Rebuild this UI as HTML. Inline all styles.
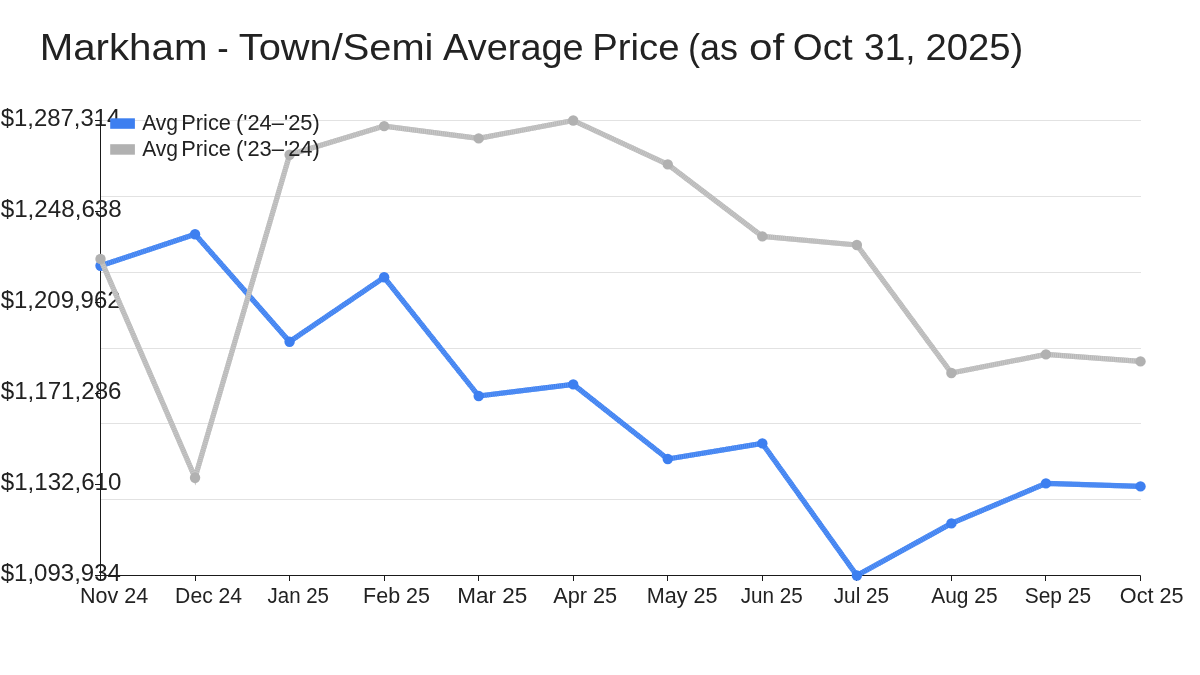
<!DOCTYPE html><html><head><meta charset="utf-8"><style>html,body{margin:0;padding:0;background:#fff;width:1200px;height:675px;overflow:hidden}svg{display:block;will-change:transform}text{font-family:"Liberation Sans",sans-serif;fill:#222222}</style></head><body>
<svg width="1200" height="675" viewBox="0 0 1200 675">
<g id="grid">
<line x1="100.5" y1="120.50" x2="1141" y2="120.50" stroke="#e2e2e2" stroke-width="1"/>
<line x1="100.5" y1="196.50" x2="1141" y2="196.50" stroke="#e2e2e2" stroke-width="1"/>
<line x1="100.5" y1="272.50" x2="1141" y2="272.50" stroke="#e2e2e2" stroke-width="1"/>
<line x1="100.5" y1="348.50" x2="1141" y2="348.50" stroke="#e2e2e2" stroke-width="1"/>
<line x1="100.5" y1="423.50" x2="1141" y2="423.50" stroke="#e2e2e2" stroke-width="1"/>
<line x1="100.5" y1="499.50" x2="1141" y2="499.50" stroke="#e2e2e2" stroke-width="1"/>
</g>
<text id="t0" x="39.70" y="60.00" font-size="37.50" textLength="167.73" lengthAdjust="spacingAndGlyphs">Markham</text>
<text id="t1" x="217.19" y="60.00" font-size="37.50" textLength="11.39" lengthAdjust="spacingAndGlyphs">-</text>
<text id="t2" x="238.75" y="60.00" font-size="37.50" textLength="194.69" lengthAdjust="spacingAndGlyphs">Town/Semi</text>
<text id="t3" x="443.14" y="60.00" font-size="37.50" textLength="140.54" lengthAdjust="spacingAndGlyphs">Average</text>
<text id="t4" x="592.19" y="60.00" font-size="37.50" textLength="87.26" lengthAdjust="spacingAndGlyphs">Price</text>
<text id="t5" x="688.12" y="60.00" font-size="37.50" textLength="49.86" lengthAdjust="spacingAndGlyphs">(as</text>
<text id="t6" x="749.04" y="60.00" font-size="37.50" textLength="35.15" lengthAdjust="spacingAndGlyphs">of</text>
<text id="t7" x="792.83" y="60.00" font-size="37.50" textLength="59.85" lengthAdjust="spacingAndGlyphs">Oct</text>
<text id="t8" x="864.10" y="60.00" font-size="37.50" textLength="51.55" lengthAdjust="spacingAndGlyphs">31,</text>
<text id="t9" x="925.47" y="60.00" font-size="37.50" textLength="97.91" lengthAdjust="spacingAndGlyphs">2025)</text>
<text id="y0" x="0.75" y="126.00" font-size="23.50" textLength="119.64" lengthAdjust="spacingAndGlyphs">$1,287,314</text>
<text id="y1" x="0.72" y="217.00" font-size="23.50" textLength="121.04" lengthAdjust="spacingAndGlyphs">$1,248,638</text>
<text id="y2" x="0.75" y="308.00" font-size="23.50" textLength="119.78" lengthAdjust="spacingAndGlyphs">$1,209,962</text>
<text id="y3" x="0.72" y="399.00" font-size="23.50" textLength="120.82" lengthAdjust="spacingAndGlyphs">$1,171,286</text>
<text id="y4" x="0.72" y="490.00" font-size="23.50" textLength="120.66" lengthAdjust="spacingAndGlyphs">$1,132,610</text>
<text id="y5" x="0.72" y="581.00" font-size="23.50" textLength="120.21" lengthAdjust="spacingAndGlyphs">$1,093,934</text>
<text id="x0" x="80.01" y="602.90" font-size="22.00" textLength="68.23" lengthAdjust="spacingAndGlyphs">Nov 24</text>
<text id="x1" x="175.12" y="602.90" font-size="22.00" textLength="67.00" lengthAdjust="spacingAndGlyphs">Dec 24</text>
<text id="x2" x="267.53" y="602.90" font-size="22.00" textLength="61.50" lengthAdjust="spacingAndGlyphs">Jan 25</text>
<text id="x3" x="363.12" y="602.90" font-size="22.00" textLength="66.85" lengthAdjust="spacingAndGlyphs">Feb 25</text>
<text id="x4" x="457.19" y="602.90" font-size="22.00" textLength="70.02" lengthAdjust="spacingAndGlyphs">Mar 25</text>
<text id="x5" x="553.20" y="602.90" font-size="22.00" textLength="63.92" lengthAdjust="spacingAndGlyphs">Apr 25</text>
<text id="x6" x="646.84" y="602.90" font-size="22.00" textLength="70.79" lengthAdjust="spacingAndGlyphs">May 25</text>
<text id="x7" x="740.71" y="602.90" font-size="22.00" textLength="62.04" lengthAdjust="spacingAndGlyphs">Jun 25</text>
<text id="x8" x="833.75" y="602.90" font-size="22.00" textLength="55.38" lengthAdjust="spacingAndGlyphs">Jul 25</text>
<text id="x9" x="931.23" y="602.90" font-size="22.00" textLength="66.39" lengthAdjust="spacingAndGlyphs">Aug 25</text>
<text id="x10" x="1024.74" y="602.90" font-size="22.00" textLength="66.29" lengthAdjust="spacingAndGlyphs">Sep 25</text>
<text id="x11" x="1119.82" y="602.90" font-size="22.00" textLength="63.72" lengthAdjust="spacingAndGlyphs">Oct 25</text>
<g id="axes" stroke="#1a1a1a" stroke-width="1">
<line x1="100.5" y1="120.5" x2="100.5" y2="575.5"/>
<line x1="95" y1="575.5" x2="1140.5" y2="575.5"/>
<line x1="95" y1="120.5" x2="100.5" y2="120.5"/>
<line x1="95" y1="211.5" x2="100.5" y2="211.5"/>
<line x1="95" y1="302.5" x2="100.5" y2="302.5"/>
<line x1="95" y1="393.5" x2="100.5" y2="393.5"/>
<line x1="95" y1="484.5" x2="100.5" y2="484.5"/>
<line x1="95" y1="575.5" x2="100.5" y2="575.5"/>
<line x1="100.50" y1="575.5" x2="100.50" y2="581.0"/>
<line x1="195.50" y1="575.5" x2="195.50" y2="581.0"/>
<line x1="289.50" y1="575.5" x2="289.50" y2="581.0"/>
<line x1="384.50" y1="575.5" x2="384.50" y2="581.0"/>
<line x1="478.50" y1="575.5" x2="478.50" y2="581.0"/>
<line x1="573.50" y1="575.5" x2="573.50" y2="581.0"/>
<line x1="667.50" y1="575.5" x2="667.50" y2="581.0"/>
<line x1="762.50" y1="575.5" x2="762.50" y2="581.0"/>
<line x1="856.50" y1="575.5" x2="856.50" y2="581.0"/>
<line x1="951.50" y1="575.5" x2="951.50" y2="581.0"/>
<line x1="1045.50" y1="575.5" x2="1045.50" y2="581.0"/>
<line x1="1140.50" y1="575.5" x2="1140.50" y2="581.0"/>
</g>
<g id="sb"><polyline points="100.50,265.80 195.05,234.30 289.59,341.70 384.14,277.30 478.68,396.00 573.23,384.40 667.77,459.00 762.32,443.40 856.86,575.50 951.41,523.40 1045.95,483.40 1140.50,486.40" fill="none" stroke="#3d7ff0" stroke-width="5.20" stroke-linejoin="round"/><polyline points="100.50,265.80 195.05,234.30 289.59,341.70 384.14,277.30 478.68,396.00 573.23,384.40 667.77,459.00 762.32,443.40 856.86,575.50 951.41,523.40 1045.95,483.40 1140.50,486.40" fill="none" stroke="#5a95f5" stroke-width="5.20" stroke-dasharray="1 1"/><circle cx="100.50" cy="265.80" r="5.20" fill="#3d7ff0"/><circle cx="195.05" cy="234.30" r="5.20" fill="#3d7ff0"/><circle cx="289.59" cy="341.70" r="5.20" fill="#3d7ff0"/><circle cx="384.14" cy="277.30" r="5.20" fill="#3d7ff0"/><circle cx="478.68" cy="396.00" r="5.20" fill="#3d7ff0"/><circle cx="573.23" cy="384.40" r="5.20" fill="#3d7ff0"/><circle cx="667.77" cy="459.00" r="5.20" fill="#3d7ff0"/><circle cx="762.32" cy="443.40" r="5.20" fill="#3d7ff0"/><circle cx="856.86" cy="575.50" r="5.20" fill="#3d7ff0"/><circle cx="951.41" cy="523.40" r="5.20" fill="#3d7ff0"/><circle cx="1045.95" cy="483.40" r="5.20" fill="#3d7ff0"/><circle cx="1140.50" cy="486.40" r="5.20" fill="#3d7ff0"/></g>
<g id="sg"><polyline points="100.50,258.90 195.05,477.80 289.59,154.80 384.14,126.10 478.68,138.40 573.23,120.50 667.77,164.40 762.32,236.40 856.86,245.00 951.41,373.00 1045.95,354.40 1140.50,361.40" fill="none" stroke="#b8b8b8" stroke-width="5.20" stroke-linejoin="round"/><polyline points="100.50,258.90 195.05,477.80 289.59,154.80 384.14,126.10 478.68,138.40 573.23,120.50 667.77,164.40 762.32,236.40 856.86,245.00 951.41,373.00 1045.95,354.40 1140.50,361.40" fill="none" stroke="#c7c7c7" stroke-width="5.20" stroke-dasharray="1 1"/><circle cx="100.50" cy="258.90" r="5.20" fill="#b1b1b1"/><circle cx="195.05" cy="477.80" r="5.20" fill="#b1b1b1"/><circle cx="289.59" cy="154.80" r="5.20" fill="#b1b1b1"/><circle cx="384.14" cy="126.10" r="5.20" fill="#b1b1b1"/><circle cx="478.68" cy="138.40" r="5.20" fill="#b1b1b1"/><circle cx="573.23" cy="120.50" r="5.20" fill="#b1b1b1"/><circle cx="667.77" cy="164.40" r="5.20" fill="#b1b1b1"/><circle cx="762.32" cy="236.40" r="5.20" fill="#b1b1b1"/><circle cx="856.86" cy="245.00" r="5.20" fill="#b1b1b1"/><circle cx="951.41" cy="373.00" r="5.20" fill="#b1b1b1"/><circle cx="1045.95" cy="354.40" r="5.20" fill="#b1b1b1"/><circle cx="1140.50" cy="361.40" r="5.20" fill="#b1b1b1"/></g>
<g id="legend">
<rect x="110.2" y="118.3" width="24.7" height="10.5" fill="#3d7ff0"/>
<rect x="110.2" y="144.2" width="24.7" height="10.5" fill="#b1b1b1"/>
</g>
<text id="l0w0" x="142.15" y="129.80" font-size="21.20" textLength="35.92" lengthAdjust="spacingAndGlyphs">Avg</text>
<text id="l0w1" x="181.33" y="129.80" font-size="21.20" textLength="49.61" lengthAdjust="spacingAndGlyphs">Price</text>
<text id="l0w2" x="235.99" y="129.80" font-size="21.20" textLength="83.80" lengthAdjust="spacingAndGlyphs">(&#39;24–&#39;25)</text>
<text id="l1w0" x="142.15" y="155.70" font-size="21.20" textLength="35.92" lengthAdjust="spacingAndGlyphs">Avg</text>
<text id="l1w1" x="181.33" y="155.70" font-size="21.20" textLength="49.61" lengthAdjust="spacingAndGlyphs">Price</text>
<text id="l1w2" x="235.99" y="155.70" font-size="21.20" textLength="83.80" lengthAdjust="spacingAndGlyphs">(&#39;23–&#39;24)</text>
</svg></body></html>
